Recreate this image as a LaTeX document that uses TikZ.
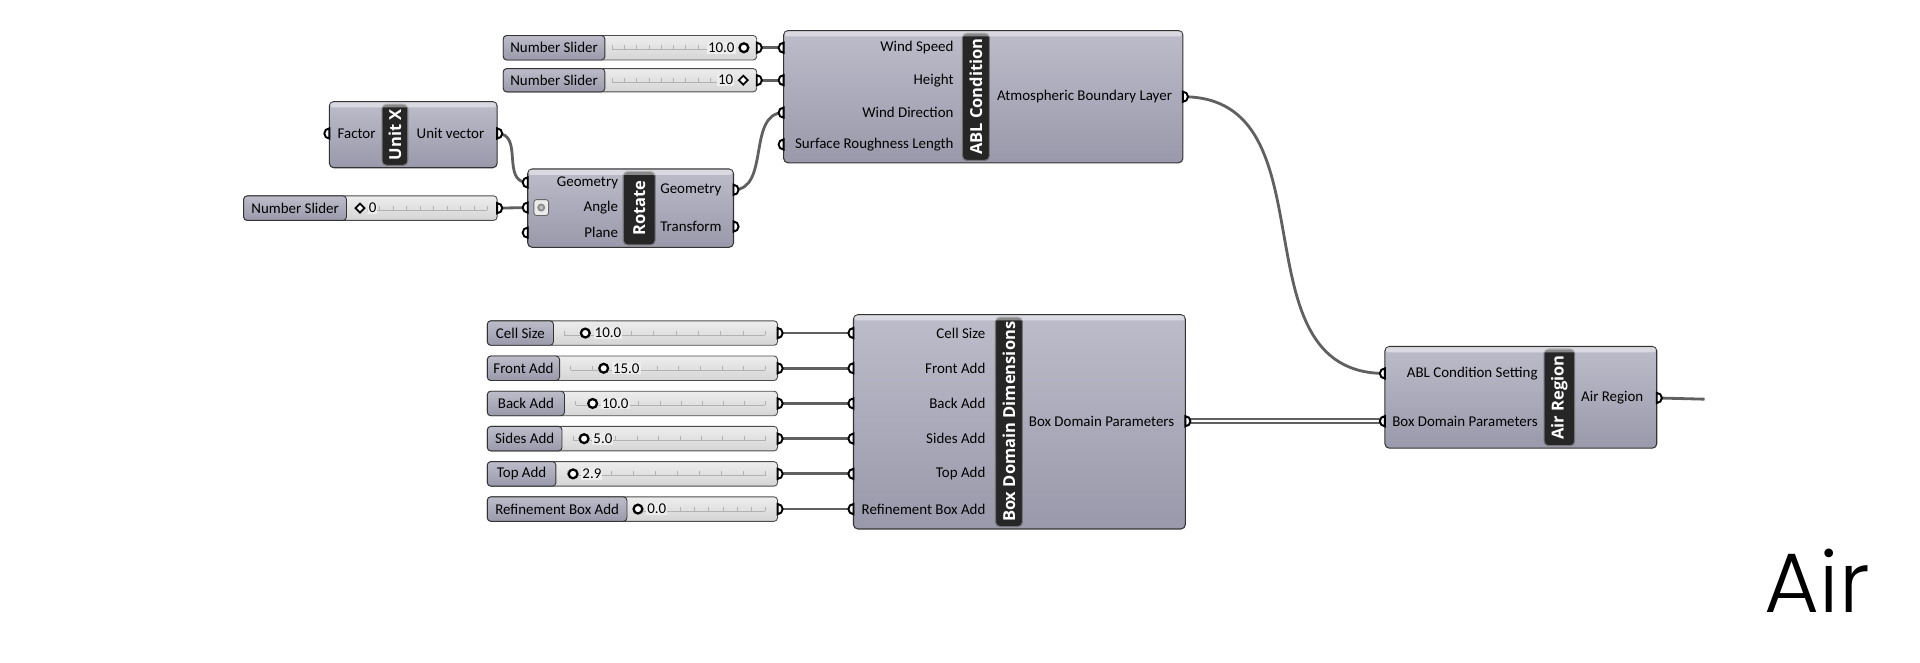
\documentclass[tikz,border=0pt]{standalone}
\usepackage{fontspec}
\setmainfont{Carlito}
\newfontfamily\titlefont{Open Sans}
\IfFontExistsTF{Poppins Light}{\newfontfamily\airfont{Poppins Light}}{\newfontfamily\airfont{Poppins}}
\usetikzlibrary{fit,calc}
\definecolor{cmptop}{HTML}{BDBCCA}
\definecolor{cmpbot}{HTML}{9A99AB}
\definecolor{sldtop}{HTML}{EDEDED}
\definecolor{sldbot}{HTML}{D5D5D5}
\definecolor{stripbg}{HTML}{262626}
\definecolor{wirec}{HTML}{606060}
\tikzset{
  comp/.style={draw=black!80,line width=0.6pt,rounded corners=2.5pt,top color=cmptop,bottom color=cmpbot,inner sep=0pt},
  hilite/.style={fill=white,opacity=0.45,rounded corners=1.5pt},
  strip/.style={draw=black!55,line width=0.6pt,fill=stripbg,rounded corners=2.5pt,inner sep=0pt},
  striptxt/.style={text=white,font=\titlefont\bfseries\fontsize{9.4}{10}\selectfont,rotate=90,inner sep=0pt},
  lbl/.style={font=\fontsize{8.5}{10}\selectfont,inner sep=0pt},
  sldval/.style={draw=black!70,line width=0.5pt,rounded corners=2pt,top color=sldtop,bottom color=sldbot,inner sep=0pt},
  sldlbl/.style={comp,line width=0.5pt,rounded corners=2pt},
  valtxt/.style={lbl,fill=sldtop,inner sep=0.6pt},
  ring/.style={circle,draw=black,fill=white,line width=1.3pt,minimum size=5pt,inner sep=0pt},
  dmd/.style={draw=black,fill=white,rotate=45,line width=1pt,minimum size=3.6pt,inner sep=0pt},
  wire/.style={draw=wirec,line width=1.6pt},
  lwire/.style={draw=wirec,line width=1.1pt,double=white,double distance=1.2pt},
  port/.style={draw=black,fill=white,line width=1.1pt},
  tick/.style={draw=black!30,line width=0.4pt},
}
\newcommand{\inport}[1]{\draw[port] ([yshift=2.9pt]#1) arc (90:270:2.9pt) -- cycle;}
\newcommand{\outport}[1]{\draw[port] ([yshift=2.9pt]#1) arc (90:-90:2.9pt) -- cycle;}

\begin{document}
\begin{tikzpicture}[x=0.2449mm,y=-0.2449mm]
\useasboundingbox (0,0) rectangle (1568,541);

% ports
\coordinate (ws-o) at (618,39);
\coordinate (ht-o) at (618,65.5);
\foreach \i/\y in {1/39,2/65.5,3/92,4/118} \coordinate (abl-i\i) at (640,\y);
\coordinate (abl-o) at (966,79);
\coordinate (ux-i) at (269,109);
\coordinate (ux-o) at (406,109);
\coordinate (ang-o) at (406,170);
\foreach \i/\y in {1/149,2/169.5,3/190} \coordinate (rot-i\i) at (431,\y);
\coordinate (rot-o1) at (599,155);
\coordinate (rot-o2) at (599,185);
\foreach \i in {1,...,6} {
  \coordinate (bs\i-o) at (635,272+\i*28.75-28.75);
  \coordinate (box-i\i) at (697,272+\i*28.75-28.75);
}
\coordinate (box-o) at (968,344);
\coordinate (air-i1) at (1131,305);
\coordinate (air-i2) at (1131,344);
\coordinate (air-o) at (1353,325);
\coordinate (air-end) at (1392,326);

% wires
\draw[wire] (ws-o) -- (abl-i1);
\draw[wire] (ht-o) -- (abl-i2);
\draw[wire] (ang-o) -- (rot-i2);
\draw[wire] (ux-o) .. controls +(22,0) and +(-22,0) .. (rot-i1);
\draw[wire] (rot-o1) .. controls +(30,0) and +(-30,0) .. (abl-i3);
\draw[wire] (abl-o) .. controls +(125,0) and +(-125,0) .. (air-i1);
\foreach \i in {1,...,6} \draw[wire] (bs\i-o) -- (box-i\i);
\draw[lwire] (box-o) -- (air-i2);
\draw[wire] (air-o) -- (air-end);

% wind speed / height sliders
\node[sldval,fit={(411,29)(618,49)}] (ws) {};
\node[sldlbl,fit={(411,29)(494,49)}] (ws-l) {};
\node[lbl] (ws-t) at (ws-l.center) {Number Slider};
\node[sldval,fit={(411,56)(618,75)}] (ht) {};
\node[sldlbl,fit={(411,56)(494,75)}] (ht-l) {};
\node[lbl] (ht-t) at (ht-l.center) {Number Slider};
\foreach \y in {39,65.5} {
  \draw[tick] (500,\y+1.5) -- (590,\y+1.5);
  \foreach \k in {0,...,9} \draw[tick] (500+\k*10,\y+1.5) -- ++(0,-3.5);
}
\node[valtxt,anchor=east] (ws-v) at (601,39) {10.0};
\node[ring] (ws-m) at (607.5,39) {};
\node[valtxt,anchor=east] (ht-v) at (600,65.5) {10};
\node[dmd] (ht-m) at (607,65.5) {};

% angle slider
\node[sldval,fit={(199,160)(406,180)}] (ang) {};
\node[sldlbl,fit={(199,160)(283,180)}] (ang-l) {};
\node[lbl] (ang-t) at (ang-l.center) {Number Slider};
\draw[tick] (300,171.5) -- (398,171.5);
\foreach \k in {0,...,8} \draw[tick] (310+\k*11,171.5) -- ++(0,-3.5);
\node[dmd] (ang-m) at (294,170) {};
\node[valtxt,anchor=west] (ang-v) at (300,170) {0};

% unit x
\node[comp,fit={(269,83)(406,137)}] (ux) {};
\node[strip,fit={(312,85)(333,135)}] (ux-s) {};
\node[striptxt] (ux-n) at (ux-s.center) {Unit X};
\node[lbl,anchor=east] (ux-t1) at (307,109) {Factor};
\node[lbl,anchor=west] (ux-t2) at (340,109) {Unit vector};

% rotate
\node[comp,fit={(431,138)(599,202)}] (rot) {};
\node[strip,fit={(509,140)(535,200)}] (rot-s) {};
\node[striptxt] (rot-n) at (rot-s.center) {Rotate};
\foreach \i/\t in {1/Geometry,2/Angle,3/Plane} \node[lbl,anchor=east] (rot-t\i) at ($(rot-i\i)+(74,0)$) {\t};
\node[lbl,anchor=west] (rot-u1) at (539,155) {Geometry};
\node[lbl,anchor=west] (rot-u2) at (539,185) {Transform};
\node[draw=black!60,line width=0.5pt,fill=black!8,rounded corners=1.5pt,fit={(436,163)(448,176)},inner sep=0pt] (rot-ic) {};
\node[circle,draw=black!45,fill=black!25,line width=1pt,minimum size=3.5pt,inner sep=0pt] (rot-ic2) at (rot-ic.center) {};

% abl condition
\node[comp,fit={(640,25)(966,133)}] (abl) {};
\node[strip,fit={(786,27)(808,131)}] (abl-s) {};
\node[striptxt] (abl-n) at (abl-s.center) {ABL Condition};
\foreach \i/\t in {1/Wind Speed,2/Height,3/Wind Direction,4/Surface Roughness Length}
  \node[lbl,anchor=east] (abl-t\i) at ($(abl-i\i)+(139,0)$) {\t};
\node[lbl,anchor=west] (abl-u) at (814,79) {Atmospheric Boundary Layer};

% box domain sliders
\foreach \i/\t/\w/\v/\m in {1/Cell Size/452/10.0/478,2/Front Add/457/15.0/493,3/Back Add/461/10.0/484,
                            4/Sides Add/459/5.0/477,5/Top Add/454/2.9/468,6/Refinement Box Add/512/0.0/521} {
  \node[sldval,fit={(398,262+\i*28.75-28.75)(635,282+\i*28.75-28.75)}] (bs\i) {};
  \node[sldlbl,fit={(398,262+\i*28.75-28.75)(\w,282+\i*28.75-28.75)}] (bs\i-l) {};
  \node[lbl] (bs\i-t) at (bs\i-l.center) {\t};
  \draw[tick] (\w+9,273.5+\i*28.75-28.75) -- (625,273.5+\i*28.75-28.75);
  \foreach \k in {0,...,9} \draw[tick] ({\w+9+\k*(616-\w)/9},273.5+\i*28.75-28.75) -- ++(0,-3.5);
  \node[ring] (bs\i-m) at (\m,272+\i*28.75-28.75) {};
  \node[valtxt,anchor=west] (bs\i-v) at (\m+6.5,272+\i*28.75-28.75) {\v};
}

% box domain dimensions
\node[comp,fit={(697,257)(968,432)}] (box) {};
\node[strip,fit={(813,259)(835,430)}] (box-s) {};
\node[striptxt] (box-n) at (box-s.center) {Box Domain Dimensions};
\foreach \i/\t in {1/Cell Size,2/Front Add,3/Back Add,4/Sides Add,5/Top Add,6/Refinement Box Add}
  \node[lbl,anchor=east] (box-t\i) at ($(box-i\i)+(108,0)$) {\t};
\node[lbl,anchor=west] (box-u) at (840,344) {Box Domain Parameters};

% air region
\node[comp,fit={(1131,283)(1353,366)}] (air) {};
\node[strip,fit={(1261,285)(1286,364)}] (air-s) {};
\node[striptxt] (air-n) at (air-s.center) {Air Region};
\node[lbl,anchor=east] (air-t1) at (1256,305) {ABL Condition Setting};
\node[lbl,anchor=east] (air-t2) at (1256,344) {Box Domain Parameters};
\node[lbl,anchor=west] (air-u) at (1291,325) {Air Region};

% light band along the top of each component
\foreach \c in {ux,rot,abl,box,air} \fill[hilite] ([shift={(0.7pt,-0.7pt)}]\c.north west) rectangle ([shift={(-0.7pt,-3.6pt)}]\c.north east);

% port tips
\foreach \p in {ws-o,ht-o,abl-o,ux-o,ang-o,rot-o1,rot-o2,box-o,air-o,bs1-o,bs2-o,bs3-o,bs4-o,bs5-o,bs6-o} {\outport{\p}}
\foreach \p in {abl-i1,abl-i2,abl-i3,abl-i4,ux-i,rot-i1,rot-i2,rot-i3,box-i1,box-i2,box-i3,box-i4,box-i5,box-i6,air-i1,air-i2} {\inport{\p}}

\node[font=\airfont\fontsize{48}{54}\selectfont,anchor=base west,inner sep=0pt] (title) at (1441,500) {Air};
\end{tikzpicture}
\end{document}
